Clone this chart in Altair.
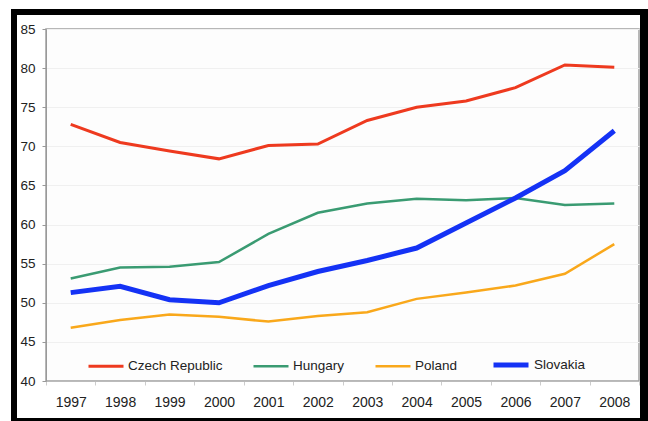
import altair as alt
import pandas as pd

years = [str(y) for y in range(1997, 2009)]
countries = ["Czech Republic", "Hungary", "Poland", "Slovakia"]
czech = [72.8, 70.5, 69.4, 68.4, 70.1, 70.3, 73.3, 75.0, 75.8, 77.5, 80.4, 80.1]
hungary = [53.1, 54.5, 54.6, 55.2, 58.8, 61.5, 62.7, 63.3, 63.1, 63.4, 62.5, 62.7]
poland = [46.8, 47.8, 48.5, 48.2, 47.6, 48.3, 48.8, 50.5, 51.3, 52.2, 53.7, 57.5]
slovakia = [51.3, 52.1, 50.4, 50.0, 52.2, 54.0, 55.4, 57.0, 60.2, 63.4, 66.9, 72.0]
y_ticks = [40, 45, 50, 55, 60, 65, 70, 75, 80, 85]

colors = ["#ee3a1f", "#3a9b72", "#f9a81b", "#1432f5"]
widths = [3, 2.5, 2.5, 5]

rows = []
for c, vals in zip(countries, [czech, hungary, poland, slovakia]):
    for y, v in zip(years, vals):
        rows.append({"year": y, "country": c, "value": v})
df = pd.DataFrame(rows)

FONT = "Liberation Sans"

legend = alt.Legend(
    orient="none", legendX=41, legendY=316, direction="horizontal",
    title=None, symbolType="stroke", symbolSize=1225, labelFontSize=13.5,
    labelFont=FONT, labelColor="#222222", columnPadding=25, labelOffset=3,
    padding=0,
)

lines = alt.Chart(df).mark_line().encode(
    x=alt.X("year:O", scale=alt.Scale(type="band", paddingInner=0, paddingOuter=0),
            axis=alt.Axis(title=None, labelAngle=0, tickBand="extent", grid=False,
                          domainColor="#bbbbbb", tickColor="#cccccc", tickSize=4,
                          labelPadding=10, labelFontSize=14, labelFont=FONT,
                          labelColor="#222222")),
    y=alt.Y("value:Q", scale=alt.Scale(domain=[40, 85], nice=False, zero=False),
            axis=alt.Axis(title=None, values=y_ticks, grid=True, gridColor="#f0f0f0",
                          domainColor="#999999", tickColor="#999999", tickSize=4,
                          labelPadding=7, labelFontSize=13.5, labelFont=FONT,
                          labelColor="#222222")),
    color=alt.Color("country:N", scale=alt.Scale(domain=countries, range=colors), legend=legend),
    strokeWidth=alt.StrokeWidth("country:N", scale=alt.Scale(type="ordinal", domain=countries, range=widths), legend=legend),
)

one = alt.Data(values=[{"a": 1}])
def frame(x1, x2, y1, y2):
    return alt.Chart(one).mark_rect(color="black").encode(
        x=alt.value(x1), x2=alt.value(x2), y=alt.value(y1), y2=alt.value(y2))

chart = alt.layer(
    lines,
    frame(-35, 602, -20, -14),
    frame(-35, -29, -20, 392),
    frame(594, 602, -20, 392),
    frame(-35, 602, 389, 392),
).properties(
    width=593, height=352,
    autosize=alt.AutoSizeParams(type="none"),
    padding={"left": 46, "top": 29, "right": 9, "bottom": 40},
    background="white",
).configure_view(stroke="#a0a0a0", strokeWidth=1.5, fill="#fdfdfd")

chart.save("out.html", embed_options={"renderer": "svg", "actions": False})
